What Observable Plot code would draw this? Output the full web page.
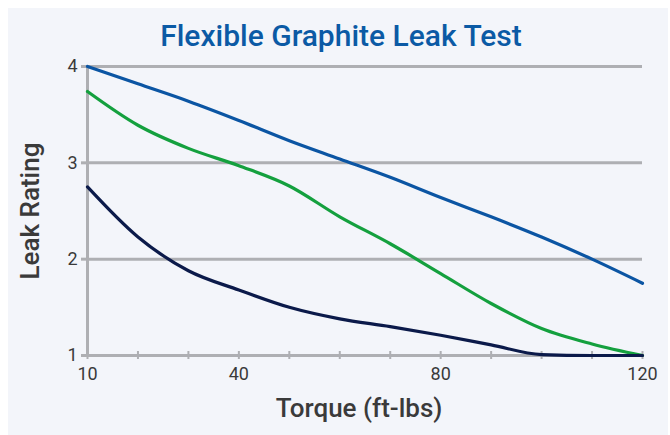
<!DOCTYPE html>
<html>
<head>
<meta charset="utf-8">
<script src="https://cdn.jsdelivr.net/npm/d3@7"></script>
<script src="https://cdn.jsdelivr.net/npm/@observablehq/plot@0.6"></script>
<style>
  body { margin: 0; background: #ffffff; }
  #panel { position: absolute; left: 8px; top: 8px; width: 660px; height: 427px; background: #f3f5fa; overflow: hidden; }
  #title { height: 40px; box-sizing: border-box; padding-top: 13px; padding-left: 6px; text-align: center; font-family: Roboto, sans-serif; font-weight: 500; font-size: 30px; line-height: 1; color: #0b5aa5; white-space: nowrap; }
  #chart svg { display: block; background: transparent; overflow: visible; }
</style>
</head>
<body>
<div id="panel">
  <div id="title">Flexible Graphite Leak Test</div>
  <div id="chart"></div>
</div>
<script>
const torque = [10, 20, 30, 40, 50, 60, 70, 80, 90, 100, 110, 120];
const seriesTop    = [4.00, 3.82, 3.64, 3.44, 3.23, 3.04, 2.85, 2.64, 2.44, 2.23, 2.00, 1.75];
const seriesMiddle = [3.74, 3.39, 3.15, 2.97, 2.76, 2.44, 2.16, 1.85, 1.54, 1.28, 1.12, 1.00];
const seriesBottom = [2.75, 2.23, 1.88, 1.68, 1.50, 1.38, 1.30, 1.21, 1.11, 1.01, 1.00, 1.00];
const yTicks = [1, 2, 3, 4];
const xLabelTicks = [10, 40, 80, 120];
const xMinorTicks = [10, 20, 30, 40, 50, 60, 70, 80, 90, 100, 110, 120];

const series = [
  {name: "S1", color: "#0b55a3", values: seriesTop},
  {name: "S2", color: "#14a03e", values: seriesMiddle},
  {name: "S3", color: "#0b1a4a", values: seriesBottom}
];
const rows = series.flatMap(s => torque.map((t, i) => ({torque: t, rating: s.values[i], name: s.name})));

const gridColor = "#aeafb3";
const textColor = "#3a3a3a";

const chart = Plot.plot({
  width: 660,
  height: 387,
  marginLeft: 79,
  marginRight: 26,
  marginTop: 18,
  marginBottom: 80,
  style: {fontFamily: "Roboto, sans-serif", background: "transparent"},
  x: {domain: [10, 120]},
  y: {domain: [1, 4]},
  color: {type: "ordinal", domain: series.map(s => s.name), range: series.map(s => s.color)},
  marks: [
    Plot.ruleY(yTicks.slice(1), {x1: 10, x2: 120, stroke: gridColor, strokeWidth: 3}),
    Plot.ruleY([1], {x1: 10, x2: 120, stroke: gridColor, strokeWidth: 3}),
    Plot.ruleX([10], {y1: 1, y2: 4, stroke: gridColor, strokeWidth: 3}),
    Plot.ruleX(xMinorTicks, {x: d => d, y1: 1, y2: 1, insetTop: -4, insetBottom: -4, stroke: gridColor, strokeWidth: 2}),
    Plot.axisY(yTicks, {tickSize: 6, tickPadding: 4, stroke: gridColor, strokeWidth: 3, fontSize: 18, fill: textColor, label: null, tickFormat: d => String(d)}),
    Plot.axisX(xLabelTicks, {tickSize: 0, tickPadding: 12, fontSize: 18, fill: textColor, label: null, tickFormat: d => String(d)}),
    Plot.line(rows, {x: "torque", y: "rating", z: "name", stroke: "name", strokeWidth: 3.2, curve: "monotone-x"}),
    Plot.text(["Leak Rating"], {frameAnchor: "left", dx: -57, rotate: -90, textAnchor: "middle", lineAnchor: "middle", fontSize: 26, fontWeight: 500, fill: textColor}),
    Plot.text(["Torque (ft-lbs)"], {frameAnchor: "bottom", dy: 53, dx: -6, textAnchor: "middle", lineAnchor: "middle", fontSize: 26, fontWeight: 500, fill: textColor})
  ]
});
document.getElementById("chart").appendChild(chart);
</script>
</body>
</html>
